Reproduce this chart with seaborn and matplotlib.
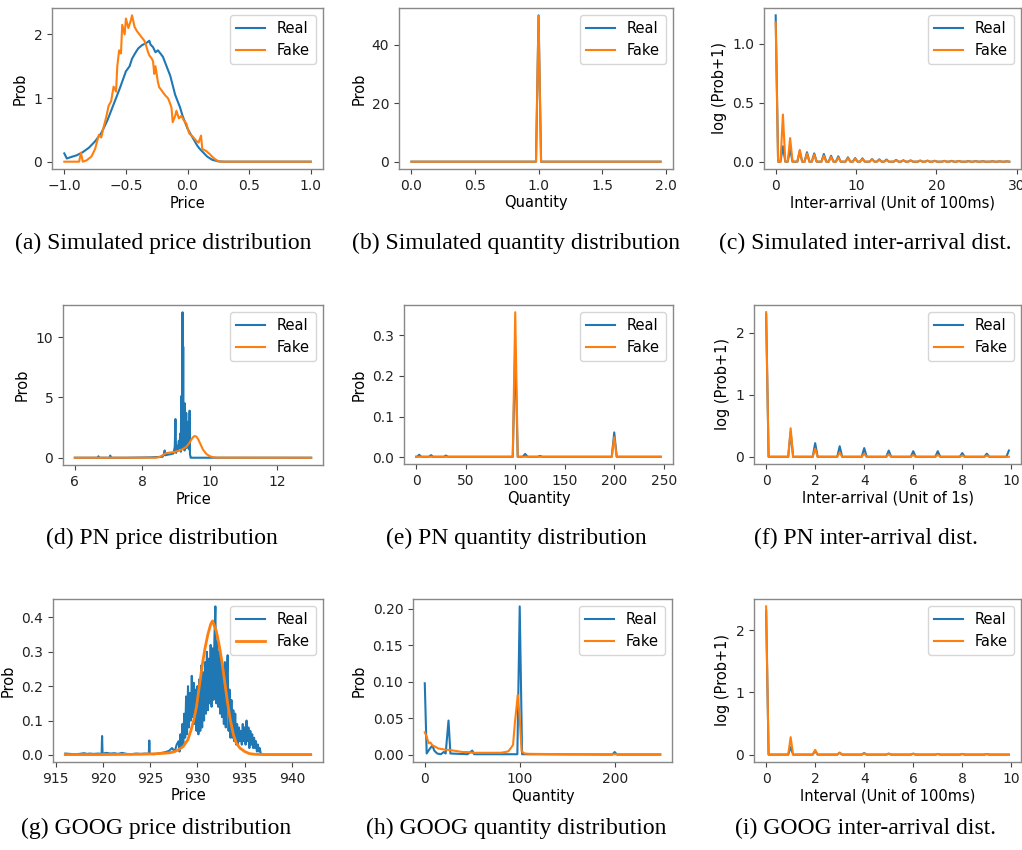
import matplotlib
matplotlib.use("Agg")
import matplotlib.pyplot as plt
import seaborn as sns

REAL_COLOR = "#1f77b4"
FAKE_COLOR = "#ff7f0e"

# (a) simulated price
a_real_x = [-1.0, -0.98, -0.95, -0.9, -0.85, -0.8, -0.75, -0.7, -0.65, -0.6,
            -0.55, -0.5, -0.47, -0.45, -0.42, -0.4, -0.37, -0.35, -0.33, -0.31,
            -0.3, -0.28, -0.26, -0.24, -0.22, -0.2, -0.18, -0.16, -0.14, -0.12,
            -0.1, -0.08, -0.06, -0.04, -0.02, 0.0, 0.02, 0.05, 0.08, 0.1,
            0.13, 0.16, 0.2, 0.25, 0.3, 0.5, 1.0]
a_real_y = [0.13, 0.05, 0.07, 0.1, 0.15, 0.22, 0.32, 0.45, 0.65, 0.9,
            1.15, 1.42, 1.5, 1.62, 1.72, 1.78, 1.83, 1.85, 1.87, 1.9,
            1.84, 1.8, 1.72, 1.75, 1.7, 1.65, 1.55, 1.45, 1.35, 1.2,
            1.05, 0.95, 0.85, 0.72, 0.62, 0.52, 0.45, 0.35, 0.25, 0.2,
            0.14, 0.08, 0.03, 0.005, 0.0, 0.0, 0.0]
a_fake_x = [-1.0, -0.88, -0.865, -0.85, -0.82, -0.78, -0.75, -0.72, -0.7, -0.68,
            -0.66, -0.64, -0.62, -0.6, -0.58, -0.57, -0.555, -0.54, -0.53, -0.51,
            -0.5, -0.48, -0.46, -0.45, -0.43, -0.41, -0.39, -0.37, -0.35, -0.34,
            -0.32, -0.31, -0.29, -0.28, -0.27, -0.26, -0.24, -0.23, -0.21, -0.2,
            -0.18, -0.16, -0.15, -0.13, -0.12, -0.1, -0.09, -0.07, -0.05, -0.03,
            -0.01, 0.015, 0.04, 0.07, 0.09, 0.11, 0.12, 0.15, 0.18, 0.205,
            0.23, 0.26, 1.0]
a_fake_y = [0.0, 0.0, 0.14, 0.0, 0.02, 0.08, 0.2, 0.42, 0.38, 0.55,
            0.7, 0.88, 0.95, 1.18, 1.1, 1.5, 1.75, 1.7, 2.15, 2.0,
            2.25, 2.1, 2.22, 2.3, 2.12, 2.05, 2.0, 1.95, 1.9, 1.85,
            1.72, 1.67, 1.62, 1.58, 1.38, 1.5, 1.25, 1.17, 1.12, 1.09,
            1.04, 1.0, 0.96, 0.85, 0.62, 0.72, 0.8, 0.68, 0.72, 0.65,
            0.6, 0.44, 0.4, 0.33, 0.3, 0.41, 0.2, 0.17, 0.12, 0.07,
            0.03, 0.0, 0.0]

# (b) simulated quantity
b_real_x = [0.0, 0.98, 1.0, 1.02, 1.96]
b_real_y = [0.0, 0.0, 50.0, 0.0, 0.0]
b_fake_x = [0.0, 0.98, 1.0, 1.02, 1.96]
b_fake_y = [0.0, 0.0, 49.8, 0.0, 0.0]

# (c) simulated inter-arrival, spikes
c_centers = [0.0, 0.9, 1.8, 3.0, 3.9, 4.8, 6.0, 6.9, 7.8, 9.0,
             9.9, 10.8, 12.0, 12.9, 13.8, 15.0, 15.9, 16.8, 18.0, 18.9,
             19.8, 21.0, 21.9, 22.8, 24.0, 24.9, 25.8, 27.0, 27.9, 28.8]
c_real_h = [1.24, 0.13, 0.107, 0.09, 0.08, 0.07, 0.065, 0.05, 0.045, 0.037,
            0.03, 0.028, 0.022, 0.02, 0.018, 0.015, 0.012, 0.011, 0.01, 0.009,
            0.008, 0.007, 0.007, 0.006, 0.005, 0.005, 0.004, 0.004, 0.003, 0.003]
c_fake_h = [1.18, 0.40, 0.20, 0.10, 0.07, 0.06, 0.05, 0.04, 0.035, 0.03,
            0.025, 0.022, 0.02, 0.015, 0.013, 0.012, 0.01, 0.009, 0.008, 0.007,
            0.006, 0.006, 0.005, 0.005, 0.004, 0.004, 0.003, 0.003, 0.003, 0.002]

# (d) PN price
d_real_x = [6.0, 6.68, 6.7, 6.72, 6.9, 7.03, 7.05, 7.07, 7.5, 8.0,
            8.2, 8.4, 8.6, 8.64, 8.66, 8.68, 8.75, 8.85, 8.92, 8.96,
            8.98, 9.0, 9.02, 9.05, 9.08, 9.1, 9.12, 9.14, 9.15, 9.16,
            9.17, 9.18, 9.19, 9.2, 9.21, 9.22, 9.24, 9.25, 9.26, 9.28,
            9.3, 9.31, 9.33, 9.34, 9.36, 9.38, 9.4, 9.41, 9.43, 9.45,
            10.0, 11.0, 12.0, 13.0]
d_real_y = [0, 0, 0.12, 0, 0, 0, 0.18, 0, 0, 0.02,
            0.03, 0.05, 0.08, 0.3, 0.6, 0.2, 0.25, 0.3, 0.35, 0.9,
            3.2, 0.4, 1.0, 0.6, 1.4, 0.8, 2.0, 0.5, 5.1, 0.7,
            5.0, 1.2, 12.05, 2.0, 9.2, 1.0, 3.0, 0.6, 4.5, 1.5,
            3.7, 0.8, 2.5, 1.0, 3.0, 0.7, 3.9, 0.3, 0, 0,
            0, 0, 0, 0]
d_fake_x = [6.0, 8.4, 8.5, 8.6, 8.7, 8.8, 8.9, 9.0, 9.1, 9.2,
            9.3, 9.4, 9.45, 9.5, 9.55, 9.6, 9.65, 9.7, 9.75, 9.8,
            9.9, 10.0, 10.1, 10.2, 13.0]
d_fake_y = [0, 0, 0.05, 0.2, 0.38, 0.42, 0.45, 0.52, 0.6, 0.72,
            0.9, 1.25, 1.5, 1.7, 1.8, 1.75, 1.55, 1.25, 0.95, 0.65,
            0.3, 0.12, 0.04, 0.01, 0]

# (e) PN quantity
e_real_x = [0, 1, 3, 5, 13, 15, 17, 28, 30, 32, 97.5, 100, 102.5,
            107.5, 110, 112.5, 122.5, 125, 127.5, 197.5, 200, 202.5, 247]
e_real_y = [0.001, 0.001, 0.006, 0.001, 0.001, 0.005, 0.001, 0.001, 0.004, 0.001,
            0.001, 0.27, 0.001, 0.001, 0.008, 0.001, 0.001, 0.003, 0.001, 0.001,
            0.061, 0.001, 0.001]
e_fake_x = [0, 97.5, 100, 102.5, 197.5, 200, 202.5, 247]
e_fake_y = [0.001, 0.001, 0.357, 0.001, 0.001, 0.049, 0.001, 0.001]

# (f) PN inter-arrival, spikes
f_centers = [0, 1, 2, 3, 4, 5, 6, 7, 8, 9]
f_real_h = [2.3, 0.4, 0.22, 0.17, 0.14, 0.1, 0.09, 0.09, 0.06, 0.05]
f_fake_h = [2.33, 0.46, 0.13, 0.07, 0.05, 0.04, 0.03, 0.03, 0.02, 0.02]

# (g) GOOG price
g_real_x = [916.0, 916.5, 917.0, 917.5, 918.0, 918.3, 918.6, 919.0, 919.5, 919.85,
            919.9, 919.95, 920.3, 920.8, 921.2, 921.6, 922.0, 922.5, 923.0, 923.5,
            924.0, 924.5, 924.85, 924.9, 924.95, 925.4, 925.8, 926.2, 926.6, 927.0,
            927.3, 927.6, 927.8,
            928.0, 928.1, 928.2, 928.3, 928.4, 928.5, 928.6, 928.7, 928.8, 928.9,
            929.0, 929.1, 929.2, 929.3, 929.4, 929.5, 929.6, 929.7, 929.8, 929.9,
            930.0, 930.1, 930.2, 930.3, 930.4, 930.5, 930.6, 930.7, 930.8, 930.9,
            931.0, 931.1, 931.2, 931.3, 931.4, 931.5, 931.6, 931.7, 931.8, 931.9,
            932.0, 932.1, 932.2, 932.3, 932.4, 932.5, 932.6, 932.7, 932.8, 932.9,
            933.0, 933.1, 933.2, 933.3, 933.4, 933.5, 933.6, 933.7, 933.8, 933.9,
            934.0, 934.1, 934.2, 934.3, 934.4, 934.5, 934.6, 934.7, 934.8, 934.9,
            935.0, 935.1, 935.2, 935.3, 935.4, 935.5, 935.6, 935.7, 935.8, 935.9,
            936.0, 936.1, 936.2, 936.3, 936.4, 936.5, 936.6, 936.7, 936.8,
            937.0, 938.0, 942.0]
g_real_y = [0.004, 0.003, 0.002, 0.003, 0.005, 0.003, 0.004, 0.003, 0.004, 0.003,
            0.055, 0.003, 0.006, 0.004, 0.005, 0.003, 0.006, 0.003, 0.002, 0.004,
            0.003, 0.004, 0.003, 0.042, 0.003, 0.002, 0.004, 0.006, 0.008, 0.012,
            0.02, 0.01, 0.03,
            0.04, 0.01, 0.06, 0.02, 0.09, 0.03, 0.12, 0.05, 0.17, 0.06,
            0.2, 0.08, 0.18, 0.1, 0.23, 0.11, 0.21, 0.09, 0.19, 0.07,
            0.2, 0.06, 0.22, 0.07, 0.26, 0.08, 0.24, 0.1, 0.27, 0.12,
            0.3, 0.13, 0.28, 0.15, 0.32, 0.14, 0.31, 0.16, 0.34, 0.432,
            0.15, 0.33, 0.14, 0.3, 0.12, 0.28, 0.11, 0.25, 0.09, 0.27,
            0.08, 0.22, 0.29, 0.07, 0.19, 0.05, 0.16, 0.05, 0.13, 0.04,
            0.12, 0.03, 0.09, 0.03, 0.08, 0.04, 0.07, 0.03, 0.09, 0.04,
            0.08, 0.03, 0.1, 0.04, 0.08, 0.02, 0.07, 0.03, 0.06, 0.02,
            0.05, 0.02, 0.04, 0.01, 0.03, 0.01, 0.02, 0.005, 0.002,
            0.001, 0.001, 0.001]
g_fake_x = [916, 920, 924, 926, 927, 927.5, 928, 928.5, 929, 929.3,
            929.6, 929.9, 930.2, 930.5, 930.8, 931.1, 931.4, 931.6, 931.8, 932.0,
            932.3, 932.6, 932.9, 933.2, 933.5, 933.8, 934.1, 934.5, 935, 935.5,
            936, 937, 942]
g_fake_y = [0.001, 0.001, 0.002, 0.004, 0.006, 0.009, 0.015, 0.025, 0.045, 0.07,
            0.1, 0.14, 0.2, 0.26, 0.31, 0.35, 0.38, 0.39, 0.375, 0.36,
            0.32, 0.27, 0.21, 0.15, 0.1, 0.06, 0.035, 0.02, 0.01, 0.004,
            0.002, 0.001, 0.001]

# (h) GOOG quantity
h_real_x = [0, 2, 5, 8, 10, 13, 17, 20, 22, 25, 27, 45, 50, 52,
            97.5, 100, 102.5, 197.5, 200, 202.5, 248]
h_real_y = [0.098, 0.002, 0.008, 0.013, 0.006, 0.002, 0.001, 0.004, 0.002, 0.047,
            0.002, 0.001, 0.006, 0.001, 0.001, 0.203, 0.001, 0.0005, 0.004, 0.0005,
            0.0005]
h_fake_x = [0, 2, 4, 6, 8, 10, 14, 18, 22, 26, 30, 35, 40, 45, 50, 60,
            70, 80, 85, 88, 91, 93, 95, 97, 98, 100, 102, 105, 110, 150, 200, 248]
h_fake_y = [0.031, 0.025, 0.016, 0.017, 0.013, 0.012, 0.009, 0.008, 0.007, 0.007,
            0.006, 0.005, 0.004, 0.004, 0.003, 0.003, 0.003, 0.003, 0.004, 0.005,
            0.01, 0.014, 0.045, 0.07, 0.082, 0.05, 0.005, 0.002, 0.0015, 0.001,
            0.001, 0.001]

# (i) GOOG inter-arrival, spikes
i_centers = [0, 1, 2, 3, 4, 5, 6, 7, 8, 9]
i_real_h = [2.3, 0.12, 0.06, 0.03, 0.025, 0.015, 0.015, 0.01, 0.01, 0.01]
i_fake_h = [2.38, 0.28, 0.075, 0.03, 0.02, 0.015, 0.012, 0.01, 0.01, 0.008]


def spike_line(centers, heights, half, tail_x=(), tail_y=()):
    xs, ys = [], []
    for c, h in zip(centers, heights):
        if c - half > 0:
            xs.append(round(c - half, 3))
            ys.append(0.0)
        xs.append(c)
        ys.append(h)
        xs.append(round(c + half, 3))
        ys.append(0.0)
    return xs + list(tail_x), ys + list(tail_y)


c_real_x, c_real_y = spike_line(c_centers, c_real_h, 0.3)
c_fake_x, c_fake_y = spike_line(c_centers, c_fake_h, 0.3)
f_real_x, f_real_y = spike_line(f_centers, f_real_h, 0.1, [9.8, 9.9], [0.0, 0.1])
f_fake_x, f_fake_y = spike_line(f_centers, f_fake_h, 0.1, [9.9], [0.0])
i_real_x, i_real_y = spike_line(i_centers, i_real_h, 0.1, [9.9], [0.0])
i_fake_x, i_fake_y = spike_line(i_centers, i_fake_h, 0.1, [9.9], [0.0])

panels = [
    dict(box=(52, 8, 323, 169), real=(a_real_x, a_real_y), fake=(a_fake_x, a_fake_y),
         xlabel="Price", ylabel="Prob", yticks=[0, 1, 2], xticks=[-1.0, -0.5, 0.0, 0.5, 1.0],
         caption="(a) Simulated price distribution", cap=(163, 243)),
    dict(box=(399, 8, 673, 169), real=(b_real_x, b_real_y), fake=(b_fake_x, b_fake_y),
         xlabel="Quantity", ylabel="Prob", yticks=[0, 20, 40], xticks=[0.0, 0.5, 1.0, 1.5, 2.0],
         caption="(b) Simulated quantity distribution", cap=(516, 243)),
    dict(box=(764, 8, 1021, 169), real=(c_real_x, c_real_y), fake=(c_fake_x, c_fake_y),
         xlabel="Inter-arrival (Unit of 100ms)", ylabel="log (Prob+1)", yticks=[0.0, 0.5, 1.0],
         xticks=[0, 10, 20, 30], caption="(c) Simulated inter-arrival dist.", cap=(865, 243)),
    dict(box=(63, 305, 323, 465), real=(d_real_x, d_real_y), fake=(d_fake_x, d_fake_y),
         xlabel="Price", ylabel="Prob", yticks=[0, 5, 10], xticks=[6, 8, 10, 12],
         caption="(d) PN price distribution", cap=(162, 538)),
    dict(box=(404, 305, 673, 464), real=(e_real_x, e_real_y), fake=(e_fake_x, e_fake_y),
         xlabel="Quantity", ylabel="Prob", yticks=[0.0, 0.1, 0.2, 0.3],
         xticks=[0, 50, 100, 150, 200, 250], caption="(e) PN quantity distribution", cap=(516, 538)),
    dict(box=(754, 305, 1021, 464), real=(f_real_x, f_real_y), fake=(f_fake_x, f_fake_y),
         xlabel="Inter-arrival (Unit of 1s)", ylabel="log (Prob+1)", yticks=[0, 1, 2],
         xticks=[0, 2, 4, 6, 8, 10], caption="(f) PN inter-arrival dist.", cap=(866, 538)),
    dict(box=(53, 599, 323, 762), real=(g_real_x, g_real_y), fake=(g_fake_x, g_fake_y),
         xlabel="Price", ylabel="Prob", yticks=[0.0, 0.1, 0.2, 0.3, 0.4],
         xticks=[915, 920, 925, 930, 935, 940], caption="(g) GOOG price distribution",
         cap=(156, 828), fake_lw=2.0),
    dict(box=(413, 599, 672, 762), real=(h_real_x, h_real_y), fake=(h_fake_x, h_fake_y),
         xlabel="Quantity", ylabel="Prob", yticks=[0.0, 0.05, 0.1, 0.15, 0.2],
         xticks=[0, 100, 200], caption="(h) GOOG quantity distribution", cap=(516, 828)),
    dict(box=(754, 599, 1021, 762), real=(i_real_x, i_real_y), fake=(i_fake_x, i_fake_y),
         xlabel="Interval (Unit of 100ms)", ylabel="log (Prob+1)", yticks=[0, 1, 2],
         xticks=[0, 2, 4, 6, 8, 10], caption="(i) GOOG inter-arrival dist.", cap=(865, 828)),
]

plt.rcParams["font.family"] = ["DejaVu Sans"]
plt.rcParams["axes.edgecolor"] = "#888888"
plt.rcParams["axes.linewidth"] = 1.0
plt.rcParams["xtick.color"] = "#444444"
plt.rcParams["ytick.color"] = "#444444"
plt.rcParams["xtick.labelcolor"] = "#222222"
plt.rcParams["ytick.labelcolor"] = "#222222"

W, H = 1022, 850
fig = plt.figure(figsize=(W / 100, H / 100), dpi=100)

for p in panels:
    l, t, r, b = p["box"]
    ax = fig.add_axes([l / W, 1 - b / H, (r - l) / W, (b - t) / H])
    sns.lineplot(x=p["real"][0], y=p["real"][1], ax=ax, color=REAL_COLOR, label="Real",
                 estimator=None, sort=False, linewidth=1.5)
    sns.lineplot(x=p["fake"][0], y=p["fake"][1], ax=ax, color=FAKE_COLOR, label="Fake",
                 estimator=None, sort=False, linewidth=p.get("fake_lw", 1.5))
    ax.set_xticks(p["xticks"])
    ax.set_yticks(p["yticks"])
    ax.tick_params(labelsize=10)
    ax.set_xlabel(p["xlabel"], fontsize=10.5, labelpad=2)
    ax.set_ylabel(p["ylabel"], fontsize=10.5)
    ax.legend(loc="upper right", fontsize=10.5)
    fig.text(p["cap"][0] / W, 1 - p["cap"][1] / H, p["caption"], ha="center", va="center",
             fontsize=17, family="Liberation Serif")

plt.savefig("out.png", dpi=100)
plt.close()
